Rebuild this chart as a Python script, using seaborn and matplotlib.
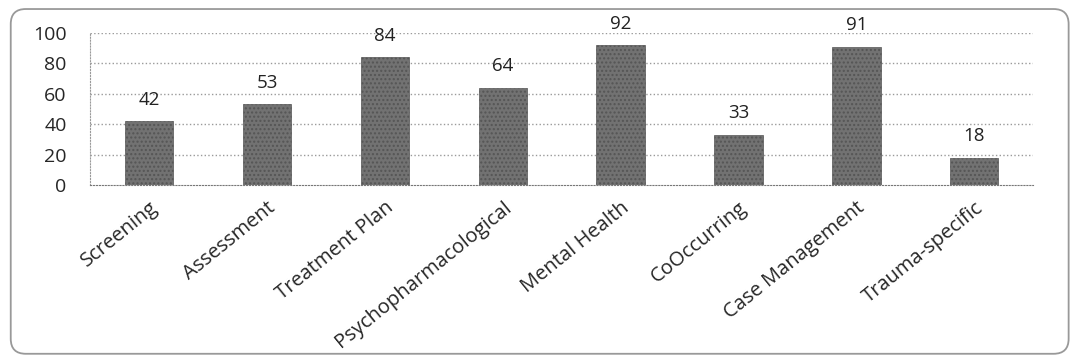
import pandas as pd
import matplotlib.pyplot as plt
import seaborn as sns
from matplotlib.patches import FancyBboxPatch

categories = ['Screening', 'Assessment', 'Treatment Plan', 'Psychopharmacological',
              'Mental Health', 'CoOccurring', 'Case Management', 'Trauma-specific']
values = [42, 53, 84, 64, 92, 33, 91, 18]
yticks = [0, 20, 40, 60, 80, 100]


def main():
    data = pd.DataFrame({'category': categories, 'value': values})

    sns.set_style('white')
    plt.rcParams['font.family'] = ['Open Sans', 'DejaVu Sans']

    fig = plt.figure(figsize=(10.74, 3.61), dpi=100)
    ax = fig.add_axes([0.084, 0.4875, 0.878, 0.421])

    sns.barplot(data=data, x='category', y='value', color='#727272',
                width=0.41, saturation=1, ax=ax, edgecolor='#555555',
                linewidth=0.5)
    for p in ax.patches:
        p.set_hatch('....')

    # value labels
    for i, v in enumerate(values):
        ax.annotate(str(v), (i, v), xytext=(0, 9), textcoords='offset points',
                    ha='center', va='bottom', fontsize=13.5, color='#222222')

    ax.set_ylim(0, 100)
    ax.set_yticks(yticks)
    ax.set_xlim(-0.5, len(categories) - 0.5)
    ax.set_xlabel('')
    ax.set_ylabel('')
    ax.tick_params(axis='y', labelsize=14, pad=17, length=0)
    ax.tick_params(axis='x', labelsize=14.5, length=0, pad=9)
    plt.setp(ax.get_xticklabels(), rotation=39, ha='right',
             rotation_mode='anchor')

    # dotted gridlines
    for y in yticks[1:]:
        ax.axhline(y, color='#9a9a9a', linestyle=':', linewidth=1, zorder=0)
    for side in ['top', 'right']:
        ax.spines[side].set_visible(False)
    ax.spines['left'].set_linestyle(':')
    ax.spines['left'].set_color('#9a9a9a')
    ax.spines['bottom'].set_linestyle(':')
    ax.spines['bottom'].set_color('#777777')

    # rounded chart border
    frame = FancyBboxPatch((0.01, 0.02), 0.985, 0.955,
                           boxstyle='round,pad=0,rounding_size=0.014',
                           transform=fig.transFigure, fill=False,
                           edgecolor='#999999', linewidth=1.3,
                           mutation_aspect=1074 / 361)
    fig.patches.append(frame)

    fig.savefig('out.png', dpi=100)


if __name__ == '__main__':
    main()
